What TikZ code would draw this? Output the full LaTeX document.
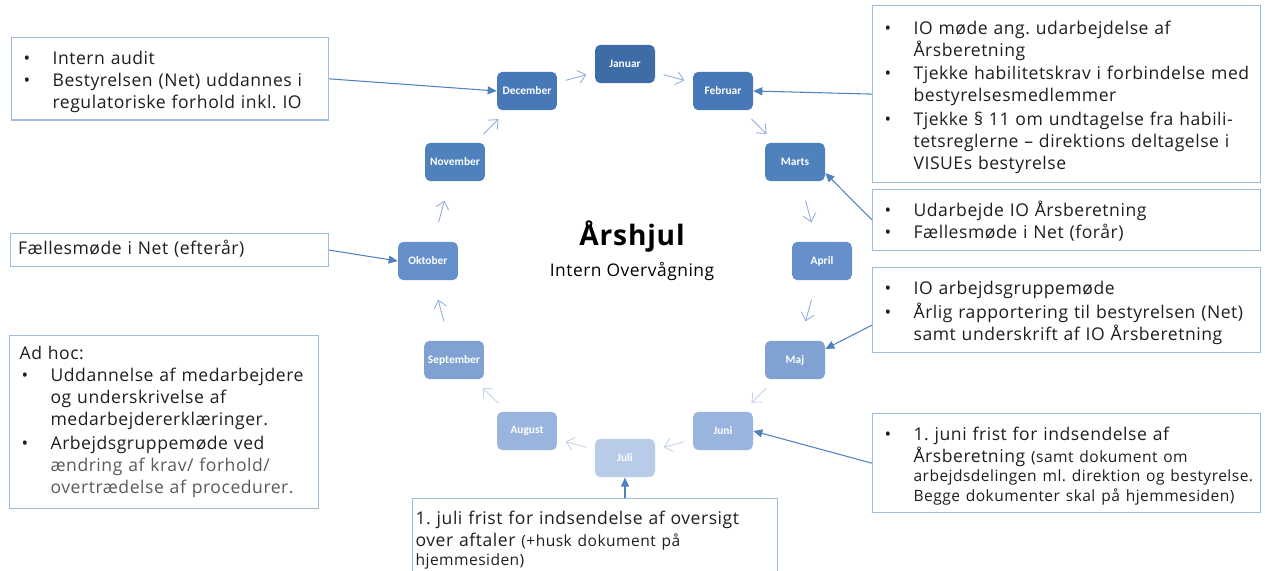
\documentclass[tikz,border=0pt]{standalone}
\usepackage{fontspec}
\setmainfont{Open Sans}[LetterSpace=3]
\newfontfamily\mfont{Carlito}
\usetikzlibrary{positioning,arrows.meta}
\definecolor{mjan}{HTML}{3D6CA6}
\definecolor{mdec}{HTML}{4779B8}
\definecolor{mnov}{HTML}{4F81BD}
\definecolor{mokt}{HTML}{6690CB}
\definecolor{msep}{HTML}{7FA2D3}
\definecolor{maug}{HTML}{9AB5DD}
\definecolor{mjul}{HTML}{B8CCE8}
\definecolor{rand}{HTML}{9DBBDB}
\definecolor{pil}{HTML}{4F81BD}
\definecolor{ring}{HTML}{92AED8}
\definecolor{ringlys}{HTML}{C3D3EA}
\definecolor{tekst}{HTML}{1E1E1E}
\definecolor{graa}{HTML}{5A5A5A}
\frenchspacing

\newlength{\pktind}
\setlength{\pktind}{0.62cm}
\newcommand{\pkt}[1]{\par\noindent\makebox[\pktind][l]{\hspace{0.04cm}\textbullet}\begin{tabular}[t]{@{}l@{}}#1\end{tabular}\par}
\newcommand{\linjer}[1]{\noindent\begin{tabular}[t]{@{}l@{}}#1\end{tabular}}
\newcommand{\lille}{\fontsize{8.85}{10}\selectfont}

\begin{document}
\begin{tikzpicture}[x=0.02cm, y=-0.02cm,
  mnd/.style={rounded corners=3.2pt, minimum width=1.2cm, minimum height=0.77cm,
    inner sep=1pt, text=white, font=\mfont\bfseries\fontsize{6.5}{8}\selectfont},
  ringpil/.style={draw=#1, line width=0.5pt, shorten >=0.8cm, shorten <=0.8cm,
    -{Straight Barb[length=1.5mm,width=2.6mm]}},
  ringpil/.default=ring,
  boks/.style={draw=rand, line width=0.7pt, anchor=north west, inner xsep=0.2cm,
    inner ysep=0.1cm, text=tekst, align=left, font=\fontsize{10}{12.5}\selectfont},
  forb/.style={draw=pil, line width=0.6pt, -{Triangle[length=1.8mm,width=1.6mm]}}]

\useasboundingbox (0,0) rectangle (1265,571);
\clip (0,0) rectangle (1265,571);

\node[mnd, fill=mjan] (jan) at (625,64)  {Januar};
\node[mnd, fill=mdec] (feb) at (723,91)  {Februar};
\node[mnd, fill=mnov] (mar) at (795,162) {Marts};
\node[mnd, fill=mokt] (apr) at (822,261) {April};
\node[mnd, fill=msep] (maj) at (795,360) {Maj};
\node[mnd, fill=maug] (jun) at (723,431) {Juni};
\node[mnd, fill=mjul] (jul) at (625,458) {Juli};
\node[mnd, fill=maug] (aug) at (527,431) {August};
\node[mnd, fill=msep] (sep) at (454,360) {September};
\node[mnd, fill=mokt] (okt) at (428,261) {Oktober};
\node[mnd, fill=mnov] (nov) at (455,162) {November};
\node[mnd, fill=mdec] (dec) at (527,91)  {December};

\draw[ringpil] (jan.center) -- (feb.center);
\draw[ringpil] (feb.center) -- (mar.center);
\draw[ringpil] (mar.center) -- (apr.center);
\draw[ringpil] (apr.center) -- (maj.center);
\draw[ringpil=ringlys] (maj.center) -- (jun.center);
\draw[ringpil=ringlys] (jun.center) -- (jul.center);
\draw[ringpil=ringlys] (jul.center) -- (aug.center);
\draw[ringpil=ringlys] (aug.center) -- (sep.center);
\draw[ringpil] (sep.center) -- (okt.center);
\draw[ringpil] (okt.center) -- (nov.center);
\draw[ringpil] (nov.center) -- (dec.center);
\draw[ringpil] (dec.center) -- (jan.center);

\node[font=\bfseries\fontsize{16}{19}\selectfont] (titel) at (632,237) {Årshjul};
\node[font=\fontsize{9.9}{12}\selectfont] (undertitel) at (632,272) {Intern Overvågning};

\node[boks, text width=5.94cm, minimum height=1.6cm] (tdec) at (11,37) {%
  \pkt{Intern audit}
  \pkt{Bestyrelsen (Net) uddannes i\\regulatoriske forhold inkl. IO}};

\node[boks, text width=7.36cm, minimum height=3.54cm] (tfeb) at (872,5) {%
  \pkt{IO møde ang. udarbejdelse af\\Årsberetning}
  \pkt{Tjekke habilitetskrav i forbindelse med\\bestyrelsesmedlemmer}
  \pkt{Tjekke § 11 om undtagelse fra habili-\\tetsreglerne – direktions deltagelse i\\VISUEs bestyrelse}};

\node[boks, text width=7.36cm, minimum height=1.04cm] (tmar) at (872,189) {%
  \pkt{Udarbejde IO Årsberetning}
  \pkt{Fællesmøde i Net (forår)}};

\node[boks, text width=7.36cm, minimum height=1.7cm] (tmaj) at (872,267) {%
  \pkt{IO arbejdsgruppemøde}
  \pkt{Årlig rapportering til bestyrelsen (Net)\\samt underskrift af IO Årsberetning}};

\node[boks, text width=7.36cm, minimum height=1.88cm] (tjun) at (872,413) {%
  \pkt{1. juni frist for indsendelse af\\Årsberetning {\lille (samt dokument om}\\[-1.5pt]
    {\lille arbejdsdelingen ml. direktion og bestyrelse.}\\[-1.5pt]
    {\lille Begge dokumenter skal på hjemmesiden)}}};

\node[boks, inner xsep=0.06cm, text width=7.18cm, minimum height=1.68cm] (tjul) at (412,498) {%
  \linjer{1. juli frist for indsendelse af oversigt\\over aftaler {\lille (+husk dokument på}\\[-1.5pt]
    {\lille hjemmesiden)}}};

\node[boks, inner xsep=0.15cm, text width=6.06cm, minimum height=0.66cm] (tokt) at (10,233) {%
  \linjer{Fællesmøde i Net (efterår)}};

\node[boks, text width=5.78cm, minimum height=3.46cm] (tadhoc) at (9,335) {%
  \linjer{Ad hoc:}
  \pkt{Uddannelse af medarbejdere\\og underskrivelse af\\medarbejdererklæringer.}
  \pkt{Arbejdsgruppemøde ved\\{\color{graa}ændring af krav/ forhold/}\\{\color{graa}overtrædelse af procedurer.}}};

\draw[forb] (tdec.east) -- (dec.west);
\draw[forb] (tfeb.west) -- (feb.east);
\draw[forb] (tmar.west) -- (mar.-20);
\draw[forb] ([yshift=-0.3cm]tmaj.west) -- (maj.20);
\draw[forb] (tjun.west) -- (jun.east);
\draw[forb] (jul.south |- tjul.north) -- (jul.south);
\draw[forb] (tokt.east) -- (okt.west);

\end{tikzpicture}
\end{document}
